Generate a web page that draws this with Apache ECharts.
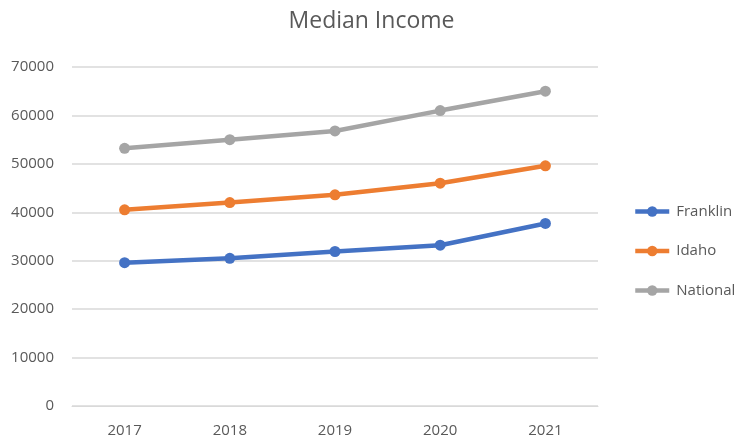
<!DOCTYPE html>
<html><head><meta charset="utf-8">
<script src="https://cdn.jsdelivr.net/npm/echarts@6/dist/echarts.min.js"></script>
<style>html,body{margin:0;padding:0;background:#fff}#c{width:743px;height:444px}</style>
</head><body><div id="c"></div>
<script>
const categories = ['2017','2018','2019','2020','2021'];
const franklin = [29600, 30500, 31900, 33200, 37700];
const idaho = [40500, 42000, 43600, 46000, 49600];
const national = [53200, 55000, 56800, 61000, 65000];
const yTicks = [0, 10000, 20000, 30000, 40000, 50000, 60000, 70000];

const font = '"Open Sans", "Liberation Sans", sans-serif';
const chart = echarts.init(document.getElementById('c'));
function mk(name, data, color){
  return {name, type:'line', data, symbol:'circle', symbolSize:11,
    lineStyle:{width:4.5, color}, itemStyle:{color}, emphasis:{disabled:true}};
}
chart.setOption({
  animation:false,
  title:{text:'Median Income', left:'center', top:5,
    textStyle:{fontFamily:font, fontSize:23, fontWeight:'normal', color:'#595959'}},
  legend:{orient:'vertical', left:628, top:199, itemWidth:34, itemHeight:13, itemGap:24.5,
    lineStyle:{width:4.5}, itemStyle:{borderWidth:0},
    textStyle:{fontFamily:font, fontSize:15, color:'#595959', padding:[0,0,0,2]},
    data:['Franklin','Idaho','National']},
  grid:{left:72, right:145, top:67, bottom:38, containLabel:false},
  xAxis:{type:'category', data:categories, boundaryGap:true,
    axisLine:{show:true, lineStyle:{color:'#D9D9D9', width:1}}, axisTick:{show:false},
    axisLabel:{fontFamily:font, fontSize:15, color:'#595959', margin:17}},
  yAxis:{type:'value', min:yTicks[0], max:yTicks[yTicks.length-1], interval:10000,
    axisLine:{show:false}, axisTick:{show:false},
    splitLine:{lineStyle:{color:'#D9D9D9', width:1.5}},
    axisLabel:{fontFamily:font, fontSize:15, color:'#595959', margin:18, formatter:v=>String(v)}},
  series:[mk('Franklin', franklin, '#4472C4'), mk('Idaho', idaho, '#ED7D31'), mk('National', national, '#A5A5A5')]
});
</script></body></html>
